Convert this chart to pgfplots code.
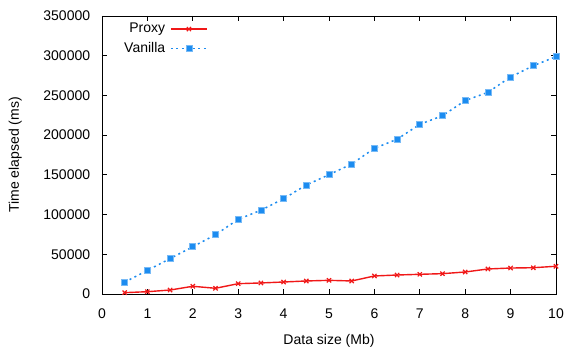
\documentclass[border=0pt]{standalone}
\usepackage{pgfplots}
\pgfplotsset{compat=1.18}
\usepackage{fontspec}
\setmainfont{Liberation Sans}
\definecolor{vblue}{HTML}{1C8CF0}
\definecolor{pred}{HTML}{F01818}
\begin{document}
\begin{tikzpicture}
\fontsize{14}{16}\selectfont
\begin{axis}[
  scale only axis,
  width=454pt, height=278pt,
  xmin=0, xmax=10, ymin=0, ymax=350000,
  xtick={0,1,...,10},
  ytick={0,50000,...,350000},
  scaled y ticks=false,
  /pgf/number format/.cd, fixed, set thousands separator={}, assume math mode=true,
  /pgfplots/.cd,
  tick style={black, line width=0.8pt},
  major tick length=5pt,
  axis line style={line width=0.9pt},
  tick label style={font=\fontsize{14}{16}\selectfont},
  yticklabel style={xshift=-7pt},
  xticklabel style={yshift=-10pt},
  label style={font=\fontsize{14}{16}\selectfont},
  xlabel={Data size (Mb)},
  ylabel={Time elapsed (ms)},
  xlabel style={yshift=-6pt},
  ylabel style={yshift=12pt},
  legend plot pos=right,
  legend cell align=right,
  legend image code/.code={\draw[mark repeat=2,mark phase=2] plot coordinates {(0pt,0pt) (18pt,0pt) (36pt,0pt)};},
  legend style={draw=none, fill=none, at={(rel axis cs:0,1)}, anchor=north west,
    xshift=19pt, yshift=-4pt, font=\fontsize{14}{16}\selectfont,
    row sep=3.5pt, column sep=3pt, inner sep=1pt},
]
\addplot[pred, line width=1.4pt, mark=x, mark size=3pt, mark options={line width=1.2pt}] coordinates {
(0.5,1700) (1,2900) (1.5,5000) (2,9700) (2.5,7200) (3,13000) (3.5,13900) (4,15100)
(4.5,16400) (5,17200) (5.5,16400) (6,22700) (6.5,23900) (7,24800) (7.5,25600)
(8,27700) (8.5,31500) (9,32700) (9.5,33100) (10,34900)};
\addlegendentry{Proxy}
\addplot[vblue, line width=1.5pt, dash pattern=on 2pt off 3.5pt, mark=square*, mark size=3pt,
  mark options={solid, fill=vblue, draw=vblue!60, line width=0.8pt}] coordinates {
(0.5,14900) (1,29700) (1.5,44600) (2,59500) (2.5,74600) (3,94000) (3.5,105400) (4,120000)
(4.5,137200) (5,150200) (5.5,163700) (6,183400) (6.5,194800) (7,213600) (7.5,224500)
(8,243500) (8.5,253900) (9,273200) (9.5,287400) (10,298800)};
\addlegendentry{Vanilla}
\end{axis}
\pgfresetboundingbox
\path[use as bounding box] (-102pt,-53pt) rectangle (482pt,294pt);
\end{tikzpicture}
\end{document}
